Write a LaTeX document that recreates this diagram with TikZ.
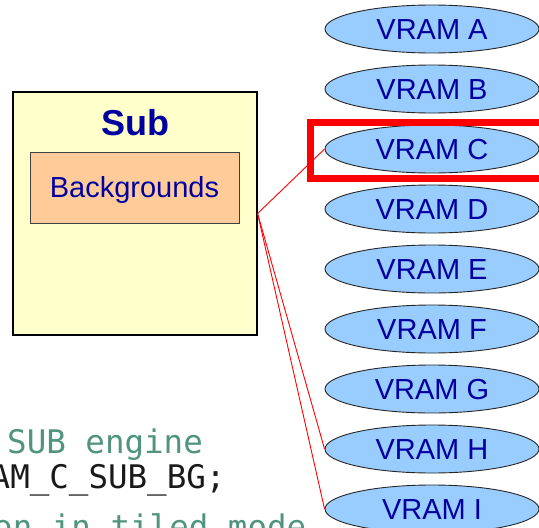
\documentclass[tikz,border=0pt]{standalone}
\usepackage{fontspec}
\setmainfont{Liberation Sans}
\newfontfamily\codefont{DejaVu Sans Mono}
\usetikzlibrary{shapes.geometric}
\definecolor{labelblue}{RGB}{0,0,160}
\definecolor{subfill}{RGB}{255,255,204}
\definecolor{bgfill}{RGB}{255,204,153}
\definecolor{vramfill}{RGB}{153,204,255}
\definecolor{commentgreen}{RGB}{80,148,128}
\tikzset{
  engine/.style={draw=black, line width=1.2pt, fill=subfill, minimum width=244pt,
    minimum height=243pt, inner sep=0pt},
  enginetitle/.style={font=\fontsize{36}{40}\selectfont\bfseries, text=labelblue, inner sep=0pt},
  layerbox/.style={draw=black!75, line width=0.9pt, fill=bgfill, minimum width=209pt,
    minimum height=71pt, inner sep=0pt, text=labelblue,
    font=\fontsize{29}{33}\selectfont, text height=20.8pt, text depth=0pt},
  vram/.style={ellipse, draw=black!85, line width=0.9pt, fill=vramfill,
    minimum width=214pt, minimum height=48pt, inner sep=0pt, text=labelblue,
    font=\fontsize{29}{33}\selectfont, text height=21pt, text depth=0pt},
  mapping/.style={draw=red, line width=0.9pt},
  highlight/.style={draw=red, line width=7pt},
  codeline/.style={font=\codefont\fontsize{32.5}{38}\selectfont, inner sep=0pt, anchor=base west},
}
\begin{document}
\begin{tikzpicture}[x=1pt,y=-1pt]
\useasboundingbox (0,0) rectangle (539,528);
\clip (0,0) rectangle (539,528);

% code listing fragments behind the diagram
\node[codeline, text=commentgreen] (c1) at (7,453) {SUB engine};
\node[codeline, text=black!90] (c2) at (-9.5,488) {AM\_C\_SUB\_BG;};
\node[codeline, text=commentgreen] (c3) at (-7,538) {on in tiled mode};

% sub engine with its background layer
\node[engine] (sub) at (135,213.5) {};
\node[enginetitle, anchor=base] (subtitle) at (135,135) {Sub};
\node[layerbox] (bg) at (134.5,187.5) {Backgrounds};

% VRAM banks
\foreach \b [count=\i from 0] in {A,B,C,D,E,F,G,H,I}
  \node[vram] (vram\b) at (432,{29+60*\i}) {VRAM \b};

% possible bank mappings for the sub backgrounds
\draw[mapping] (sub.east) -- (vramC.west);
\draw[mapping] (sub.east) -- (vramH.west);
\draw[mapping] (sub.east) -- (vramI.west);

% selected bank
\draw[highlight] (310,122) rectangle (560,178);
\end{tikzpicture}
\end{document}
